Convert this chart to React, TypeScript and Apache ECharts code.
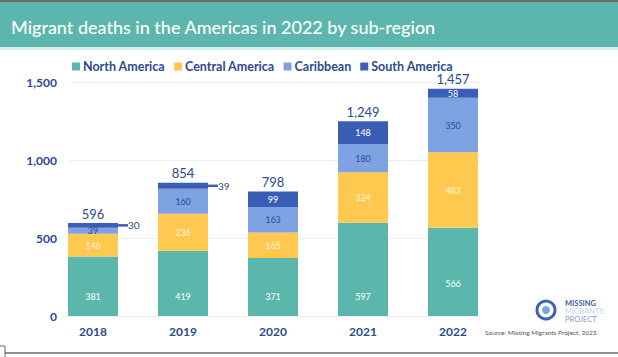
import React, { useEffect, useRef } from "react";
import * as echarts from "echarts";

const years = ["2018", "2019", "2020", "2021", "2022"];
const northAmerica = [381, 419, 371, 597, 566];
const centralAmerica = [146, 236, 165, 324, 483];
const caribbean = [39, 160, 163, 180, 350];
const southAmerica = [30, 39, 99, 148, 58];
const totals = [596, 854, 798, 1249, 1457];
const yTicks = [0, 500, 1000, 1500];

const NAVY = "#2D4A90";
const FONT = "Lato, 'Noto Sans', sans-serif";

export default function App() {
  const ref = useRef<HTMLDivElement>(null);
  useEffect(() => {
    if (!ref.current) return;
    const chart = echarts.init(ref.current, null, { renderer: "svg" });
    const fmt = (v: number) => v.toLocaleString("en-US");
    const inside = (color: string) => ({
      show: true,
      position: "inside",
      color,
      fontSize: 9,
      fontFamily: FONT,
      formatter: (p: any) => String(p.value),
    });
    chart.setOption({
      animation: false,
      textStyle: { fontFamily: FONT },
      grid: [
        { left: 48, right: 120, top: 82, bottom: 41 },
        { left: 70, right: 138, top: 82, bottom: 41 },
      ],
      legend: {
        top: 55,
        left: 67,
        itemWidth: 8,
        itemHeight: 8,
        itemGap: 9,
        icon: "rect",
        textStyle: { color: NAVY, fontSize: 12.5, fontWeight: "bold", fontFamily: FONT, padding: [0, 0, 0, -2] },
        data: ["North America", "Central America", "Caribbean", "South America"],
      },
      xAxis: [
        {
          type: "category",
          data: years,
          gridIndex: 0,
          axisLine: { show: false },
          axisTick: { show: false },
          axisLabel: { color: NAVY, fontSize: 12, fontWeight: "bold", margin: 9 },
        },
        { type: "category", data: years, gridIndex: 1, show: false },
      ],
      yAxis: [
        {
          type: "value",
          gridIndex: 0,
          min: 0,
          max: 1500,
          interval: 500,
          axisLabel: { show: false },
          splitLine: { show: false },
        },
        {
          type: "value",
          gridIndex: 1,
          min: yTicks[0],
          max: yTicks[yTicks.length - 1],
          interval: 500,
          axisLabel: {
            color: NAVY,
            fontSize: 12,
            fontWeight: "bold",
            margin: 13,
            formatter: (v: number) => fmt(v),
          },
          splitLine: { lineStyle: { color: "#EDEDED", width: 1 } },
        },
      ],
      series: [
        {
          name: "North America",
          type: "bar",
          stack: "t",
          barWidth: 50,
          itemStyle: { color: "#5BB7AC" },
          label: { ...inside("#FFFFFF"), position: "insideBottom", distance: 15 },
          data: northAmerica.map((v, i) =>
            i === 4 ? { value: v, label: { distance: 28 } } : v
          ),
        },
        {
          name: "Central America",
          type: "bar",
          stack: "t",
          itemStyle: { color: "#FFC94F" },
          label: inside("#FFF6E0"),
          data: centralAmerica,
        },
        {
          name: "Caribbean",
          type: "bar",
          stack: "t",
          itemStyle: { color: "#7FA3E2" },
          label: inside("#2A4A9E"),
          data: caribbean,
        },
        {
          name: "South America",
          type: "bar",
          stack: "t",
          itemStyle: { color: "#3A5DB5" },
          label: inside("#FFFFFF"),
          labelLine: { show: true, lineStyle: { color: "#3A5DB5", width: 2.5 } },
          labelLayout: (p: any) =>
            p.dataIndex < 2
              ? {
                  x: p.rect.x + p.rect.width + 10,
                  y: p.rect.y + p.rect.height / 2,
                  align: "left",
                  verticalAlign: "middle",
                }
              : {},
          data: southAmerica.map((v, i) =>
            i < 2 ? { value: v, label: { color: NAVY, fontSize: 10 } } : v
          ),
        },
        {
          name: "Total",
          type: "bar",
          stack: "t",
          itemStyle: { color: "transparent" },
          label: {
            show: true,
            position: "top",
            distance: 3,
            color: NAVY,
            fontSize: 13,
            fontFamily: FONT,
            formatter: (p: any) => fmt(totals[p.dataIndex]),
          },
          data: totals.map(() => 0),
        },
      ],
      graphic: [
        { type: "rect", shape: { x: 0, y: 0, width: 618, height: 2 }, style: { fill: "#6B6B6B" } },
        { type: "rect", shape: { x: 0, y: 2, width: 618, height: 45 }, style: { fill: "#5CB6AD" } },
        { type: "rect", shape: { x: 0, y: 47, width: 618, height: 3 }, style: { fill: "#D5EFEC" } },
        {
          type: "text",
          x: 11,
          y: 27,
          style: {
            text: "Migrant deaths in the Americas in 2022 by sub-region",
            fill: "#FFFFFF",
            font: "500 18px Lato, 'Noto Sans', sans-serif",
            verticalAlign: "middle",
          },
        },
        { type: "line", shape: { x1: 5, y1: 353, x2: 618, y2: 353 }, style: { stroke: "#6B6B6B", lineWidth: 1.5 } },
        { type: "polyline", shape: { points: [[0, 346], [5, 346], [5, 357]] }, style: { stroke: "#6B6B6B", lineWidth: 1, fill: "none" } },
        { type: "circle", shape: { cx: 546, cy: 310, r: 9 }, style: { fill: "#FFFFFF", stroke: "#3D63B0", lineWidth: 3 } },
        { type: "circle", shape: { cx: 546, cy: 310, r: 4 }, style: { fill: "#7FA3E2" } },
        { type: "text", x: 565, y: 299, style: { text: "MISSING", fill: "#3D5A9E", font: "bold 7.5px Lato, sans-serif" } },
        { type: "text", x: 565, y: 307, style: { text: "MIGRANTS", fill: "#C8D2E6", font: "7.5px Lato, sans-serif" } },
        { type: "text", x: 565, y: 315, style: { text: "PROJECT", fill: "#8A9BC0", font: "7.5px Lato, sans-serif" } },
        {
          type: "text",
          x: 485,
          y: 329,
          style: { text: "Source: Missing Migrants Project, 2023.", fill: "#555555", font: "6.5px Lato, sans-serif" },
        },
      ],
    });
    return () => chart.dispose();
  }, []);
  return <div ref={ref} style={{ width: 618, height: 357, position: "absolute", left: 0, top: 0 }} />;
}
